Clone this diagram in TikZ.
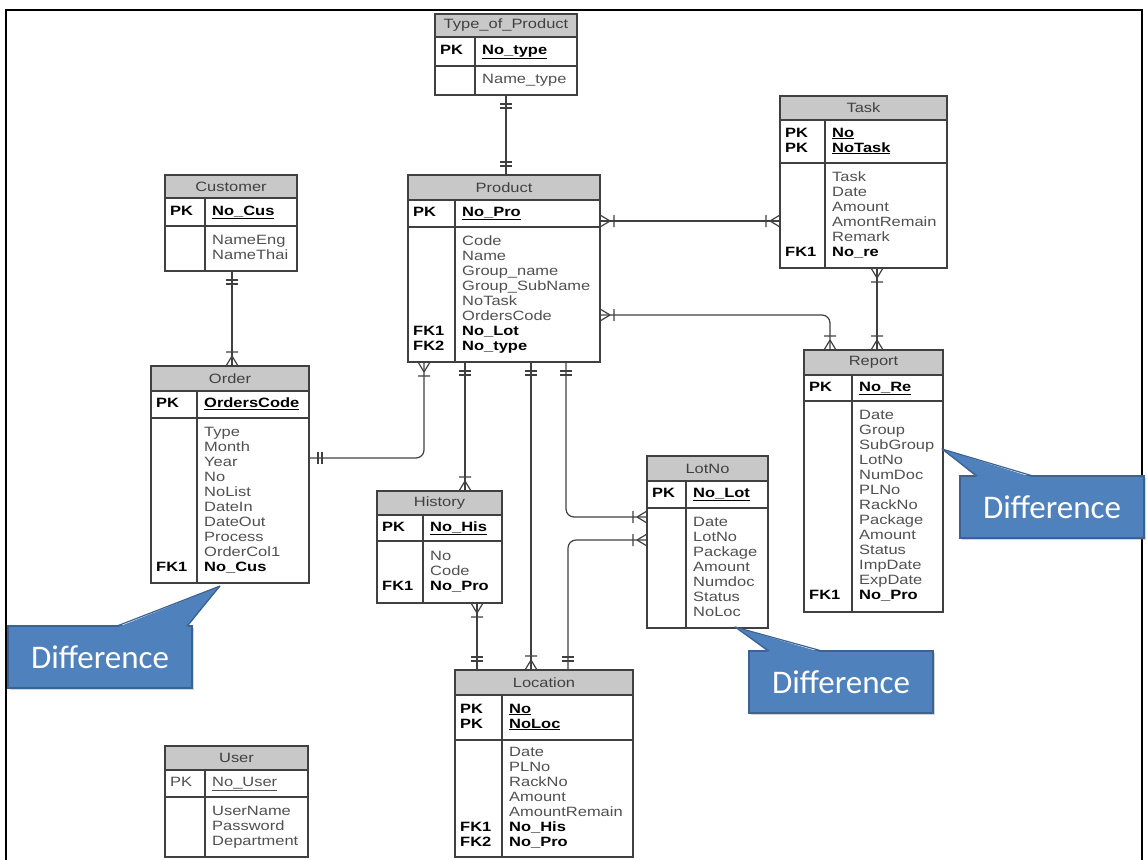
\documentclass[tikz,border=0pt]{standalone}
\usepackage{fontspec}
\usepackage{tikz}
\usetikzlibrary{positioning,calc,decorations.markings,shadows}
\newfontfamily\erfont{Liberation Sans}[FakeStretch=1.22]
\newfontfamily\notefont{Carlito}
\definecolor{ergrid}{RGB}{64,64,64}
\definecolor{headgray}{RGB}{200,200,200}
\definecolor{fieldgray}{RGB}{80,80,80}
\definecolor{noteblue}{RGB}{79,129,189}
\definecolor{noteedge}{RGB}{60,98,145}

% key column and field markup
\newcommand{\keytag}[1]{\textcolor{black}{\textbf{#1}}}
\newcommand{\pkfield}[1]{\textcolor{black}{\textbf{\underline{#1}}}}
\newcommand{\fkfield}[1]{\textcolor{black}{\textbf{#1}}}

% table frame: name, north west corner, width, key column, head/pk/attr heights, title
\newcommand{\erentity}[8]{%
  \node[erframe, minimum width=#3, minimum height=#5+#6+#7, anchor=north west] (#1) at (#2) {};
  \node[erhead, minimum width=#3, minimum height=#5, anchor=north west] (#1-head) at (#2) {#8};
  \draw[erline] ($(#1.north west)+(0,#5)$) -- ++(#3,0);
  \draw[erline] ($(#1.north west)+(0,#5+#6)$) -- ++(#3,0);
  \draw[erlink] ($(#1.north west)+(#4,#5)$) -- ++(0,#6+#7);
  \coordinate (#1-pk) at ($(#1.north west)+(0,#5+#6/2)$);
  \coordinate (#1-at) at ($(#1.north west)+(0,#5+#6+#7/2)$);
}
% rows of one section: name, anchor, key column, rows
\newcommand{\errows}[4]{%
  \node[errows, anchor=west] (#1) at (#2)
    {\begin{tabular}{@{\hspace{5pt}}p{\dimexpr#3pt+2pt\relax}@{}l@{}}#4\end{tabular}};
}
% pointer of a note: note, base from, base to, tip
\newcommand{\notetip}[4]{%
  \fill[noteblue] ($(#1.north west)+(#2,1.5)$) -- (#4) -- ($(#1.north west)+(#3,1.5)$) -- cycle;
  \draw[notepointer] ($(#1.north west)+(#2,0)$) -- (#4) -- ($(#1.north west)+(#3,0)$);
}

\tikzset{
  erframe/.style={draw=ergrid, line width=1.2pt, fill=white, outer sep=0pt},
  erhead/.style={draw=ergrid, line width=1.2pt, fill=headgray, outer sep=0pt, inner sep=0pt,
    text=ergrid, font=\erfont\fontsize{13.5}{15}\selectfont},
  erline/.style={draw=ergrid, line width=1.8pt},
  erlink/.style={draw=ergrid, line width=1.2pt},
  errows/.style={inner sep=0pt, text=fieldgray, font=\erfont\fontsize{13.5}{15}\selectfont},
  many end/.style={postaction={decorate, decoration={markings, mark=at position 1 with
    {\draw[erlink] (-10,0) -- (0,6) (-10,0) -- (0,-6) (-14,-6) -- (-14,6);}}}},
  many start/.style={postaction={decorate, decoration={markings, mark=at position 0 with
    {\draw[erlink] (10,0) -- (0,6) (10,0) -- (0,-6) (14,-6) -- (14,6);}}}},
  one end/.style={postaction={decorate, decoration={markings, mark=at position 1 with
    {\draw[erlink] (-9,-6) -- (-9,6) (-13,-6) -- (-13,6);}}}},
  one start/.style={postaction={decorate, decoration={markings, mark=at position 0 with
    {\draw[erlink] (9,-6) -- (9,6) (13,-6) -- (13,6);}}}},
  notebox/.style={rectangle, fill=noteblue, draw=noteedge, line width=1.2pt,
    text=white, font=\notefont\fontsize{33}{36}\selectfont, inner sep=0pt, outer sep=0pt,
    minimum width=184, minimum height=62,
    drop shadow={shadow xshift=1.5pt, shadow yshift=-2pt, opacity=0.35}},
  notepointer/.style={draw=noteedge, line width=1.2pt, line join=round},
}

\begin{document}
\begin{tikzpicture}[x=1pt,y=-1pt]
\useasboundingbox (0,0) rectangle (1147,859);
\draw[line width=2pt] (6,880) -- (6,10) -- (1142,10) -- (1142,880);

% tables
\erentity{typeprod}{435,14}{142}{40}{23}{29}{29}{Type\_of\_Product}
\errows{typeprod-keys}{typeprod-pk}{40}{\keytag{PK} & \pkfield{No\_type}}
\errows{typeprod-attrs}{typeprod-at}{40}{& Name\_type}

\erentity{task}{780,96}{167}{45}{24}{43}{105}{Task}
\errows{task-keys}{task-pk}{45}{\keytag{PK} & \pkfield{No}\\ \keytag{PK} & \pkfield{NoTask}}
\errows{task-attrs}{task-at}{45}{& Task\\ & Date\\ & Amount\\ & AmontRemain\\ & Remark\\
  \keytag{FK1} & \fkfield{No\_re}}

\erentity{customer}{165,175}{132}{40}{23}{28}{45}{Customer}
\errows{customer-keys}{customer-pk}{40}{\keytag{PK} & \pkfield{No\_Cus}}
\errows{customer-attrs}{customer-at}{40}{& NameEng\\ & NameThai}

\erentity{product}{408,175}{192}{47}{25}{27}{135}{Product}
\errows{product-keys}{product-pk}{47}{\keytag{PK} & \pkfield{No\_Pro}}
\errows{product-attrs}{product-at}{47}{& Code\\ & Name\\ & Group\_name\\ & Group\_SubName\\
  & NoTask\\ & OrdersCode\\ \keytag{FK1} & \fkfield{No\_Lot}\\ \keytag{FK2} & \fkfield{No\_type}}

\erentity{order}{151,366}{158}{46}{25}{27}{165}{Order}
\errows{order-keys}{order-pk}{46}{\keytag{PK} & \pkfield{OrdersCode}}
\errows{order-attrs}{order-at}{46}{& Type\\ & Month\\ & Year\\ & No\\ & NoList\\ & DateIn\\
  & DateOut\\ & Process\\ & OrderCol1\\ \keytag{FK1} & \fkfield{No\_Cus}}

\erentity{history}{377,491}{125}{46}{24}{26}{62}{History}
\errows{history-keys}{history-pk}{46}{\keytag{PK} & \pkfield{No\_His}}
\errows{history-attrs}{history-at}{46}{& No\\ & Code\\ \keytag{FK1} & \fkfield{No\_Pro}}

\erentity{lotno}{647,456}{121}{39}{25}{27}{120}{LotNo}
\errows{lotno-keys}{lotno-pk}{39}{\keytag{PK} & \pkfield{No\_Lot}}
\errows{lotno-attrs}{lotno-at}{39}{& Date\\ & LotNo\\ & Package\\ & Amount\\ & Numdoc\\
  & Status\\ & NoLoc}

\erentity{report}{804,350}{139}{48}{25}{26}{211}{Report}
\errows{report-keys}{report-pk}{48}{\keytag{PK} & \pkfield{No\_Re}}
\errows{report-attrs}{report-at}{48}{& Date\\ & Group\\ & SubGroup\\ & LotNo\\ & NumDoc\\
  & PLNo\\ & RackNo\\ & Package\\ & Amount\\ & Status\\ & ImpDate\\ & ExpDate\\
  \keytag{FK1} & \fkfield{No\_Pro}}

\erentity{location}{455,670}{178}{47}{25}{45}{117}{Location}
\errows{location-keys}{location-pk}{47}{\keytag{PK} & \pkfield{No}\\ \keytag{PK} & \pkfield{NoLoc}}
\errows{location-attrs}{location-at}{47}{& Date\\ & PLNo\\ & RackNo\\ & Amount\\
  & AmountRemain\\ \keytag{FK1} & \fkfield{No\_His}\\ \keytag{FK2} & \fkfield{No\_Pro}}

\erentity{user}{165,746}{143}{40}{24}{27}{60}{User}
\errows{user-keys}{user-pk}{40}{PK & \underline{No\_User}}
\errows{user-attrs}{user-at}{40}{& UserName\\ & Password\\ & Department}

% relationships
\draw[erlink, one start, one end] ($(typeprod.south west)+(71,0)$) -- ($(product.north west)+(98,0)$);
\draw[erlink, one start, many end] ($(customer.south west)+(67,0)$) -- ($(order.north west)+(81,0)$);
\draw[erlink, many start, many end] ($(product.north east)+(0,46)$) -- ($(task.north west)+(0,125)$);
\draw[erlink, many start, many end, rounded corners=8] ($(product.north east)+(0,140)$)
  -| ($(report.north west)+(26,0)$);
\draw[erlink, many start, many end] ($(task.south west)+(97,0)$) -- ($(report.north west)+(73,0)$);
\draw[erlink, many start, one end, rounded corners=8] ($(product.south west)+(16,0)$)
  |- ($(order.north east)+(0,92)$);
\draw[erlink, one start, many end] ($(product.south west)+(57,0)$) -- ($(history.north west)+(88,0)$);
\draw[erlink, one start, many end] ($(product.south west)+(123,0)$) -- ($(location.north west)+(76,0)$);
\draw[erlink, one start, many end, rounded corners=8] ($(product.south west)+(158,0)$)
  |- ($(lotno.north west)+(0,61)$);
\draw[erlink, many start, one end] ($(history.south west)+(100,0)$) -- ($(location.north west)+(22,0)$);
\draw[erlink, one start, many end, rounded corners=8] ($(location.north west)+(113,0)$)
  |- ($(lotno.north west)+(0,84)$);

% notes
\node[notebox] (diffleft) at (100,657) {Difference};
\node[notebox] (diffmid) at (841,682) {Difference};
\node[notebox] (diffright) at (1052,507) {Difference};
\coordinate (tipleft) at (220,586);
\coordinate (tipmid) at (735,627);
\coordinate (tipright) at (942,449);
\notetip{diffleft}{109}{179}{tipleft}
\notetip{diffmid}{20}{73}{tipmid}
\notetip{diffright}{17}{73}{tipright}
\end{tikzpicture}
\end{document}
